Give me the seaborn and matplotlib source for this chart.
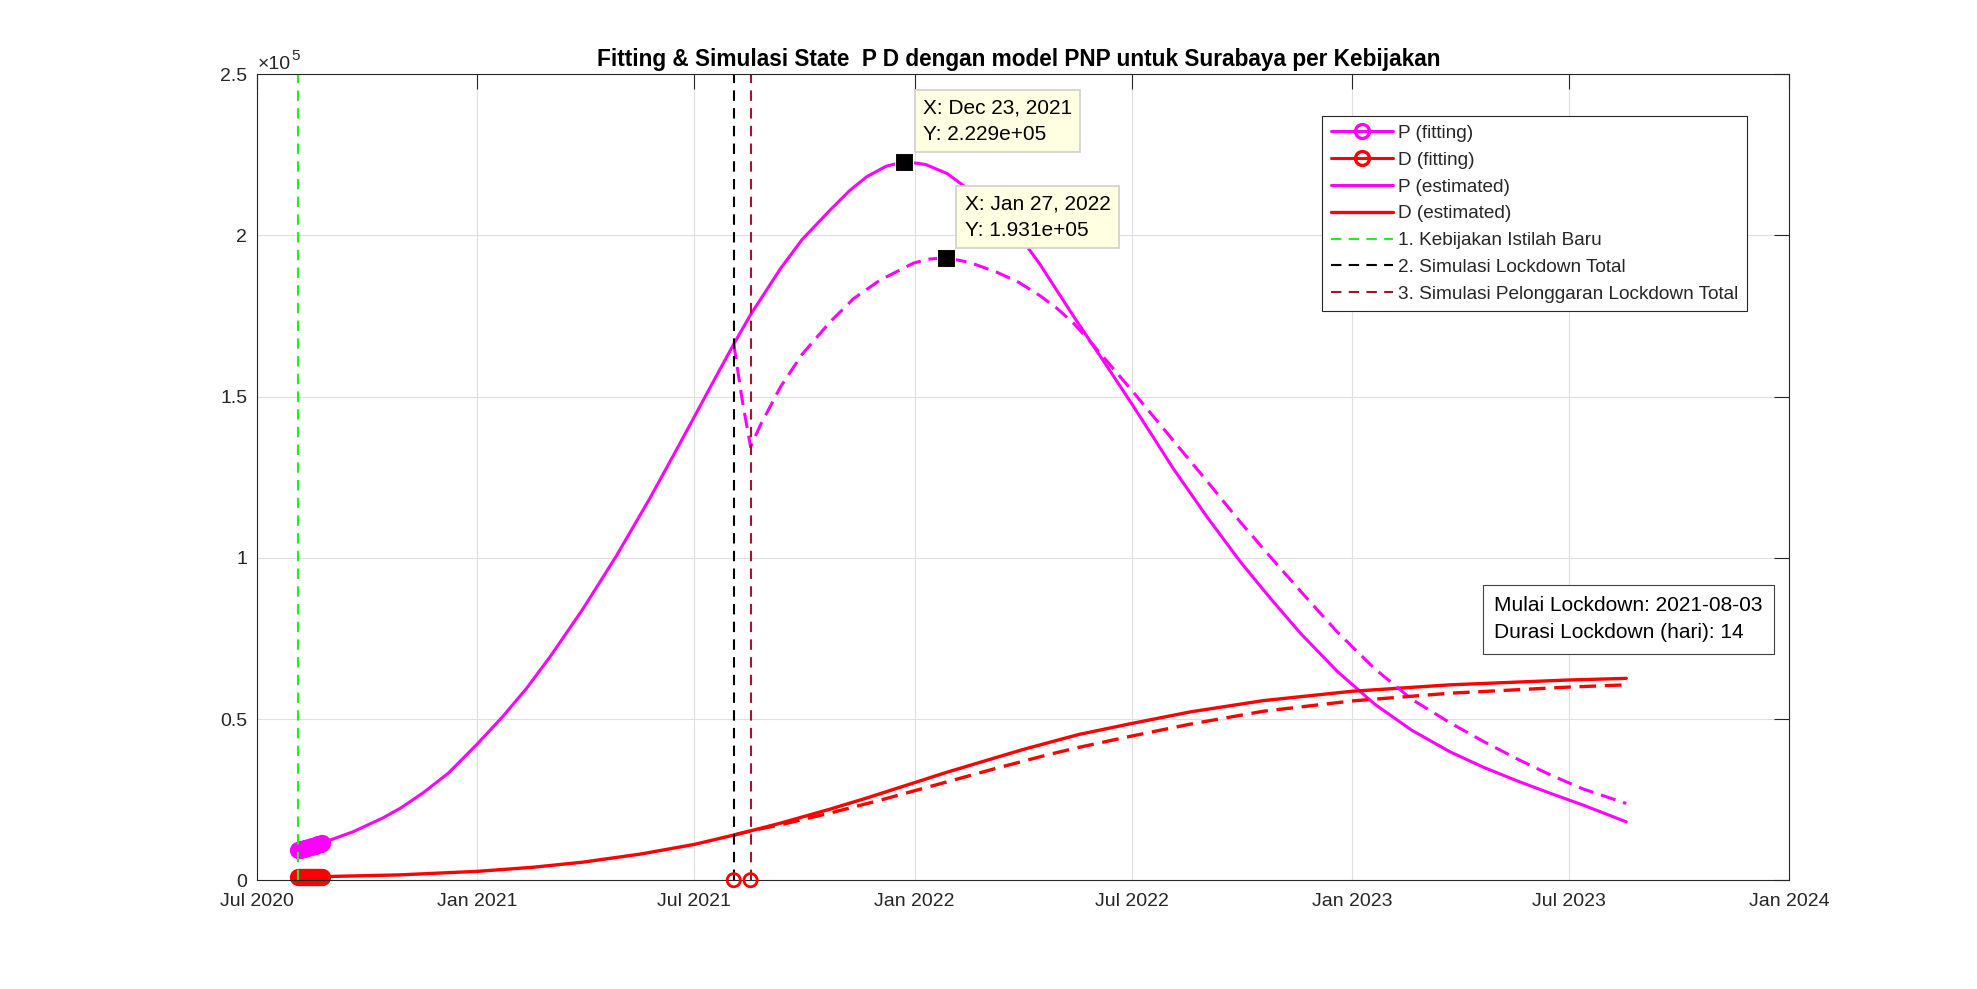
import matplotlib
matplotlib.use("Agg")

import pandas as pd
import matplotlib.pyplot as plt
import matplotlib.dates as mdates
from matplotlib.ticker import FuncFormatter
import seaborn as sns

# ---- data -------------------------------------------------------------------

# daily fitting data (P = positive, D = deaths), Surabaya
fit_dates = pd.date_range("2020-08-04", "2020-08-24", freq="D")
p_fit = [9300, 9390, 9480, 9580, 9670, 9770, 9870, 9980, 10080, 10190, 10290,
         10400, 10510, 10620, 10740, 10850, 10970, 11090, 11210, 11340, 11460]
d_fit = [870, 880, 895, 905, 920, 930, 945, 960, 970, 985, 1000,
         1010, 1025, 1040, 1055, 1065, 1080, 1095, 1110, 1125, 1140]

# P estimated (no lockdown)
p_est_dates = ["2020-08-04", "2020-08-24", "2020-09-19", "2020-10-14", "2020-10-29",
               "2020-11-17", "2020-12-08", "2021-01-01", "2021-01-22", "2021-02-11",
               "2021-03-03", "2021-03-30", "2021-04-27", "2021-05-25", "2021-06-16",
               "2021-07-01", "2021-07-18", "2021-08-03", "2021-08-17", "2021-09-11",
               "2021-09-29", "2021-10-22", "2021-11-08", "2021-11-22", "2021-12-08",
               "2021-12-23", "2022-01-10", "2022-01-28", "2022-02-21", "2022-03-13",
               "2022-04-02", "2022-04-16", "2022-04-25", "2022-05-14", "2022-06-10",
               "2022-07-02", "2022-07-19", "2022-08-05", "2022-09-02", "2022-09-30",
               "2022-10-25", "2022-11-19", "2022-12-20", "2023-01-20", "2023-02-20",
               "2023-03-24", "2023-04-21", "2023-05-19", "2023-06-16", "2023-07-13",
               "2023-08-18"]
p_est = [9300, 11500, 15000, 19300, 22400,
         27200, 33300, 42300, 50700, 59500,
         69500, 84100, 100600, 118500, 133400,
         143700, 155400, 166300, 175400, 189700,
         198700, 207700, 214000, 218200, 221400,
         222900, 222000, 219200, 212600, 206000,
         198000, 190800, 185600, 174700, 159700,
         147300, 137500, 127600, 112700, 98700,
         87400, 76600, 64700, 54600, 46500,
         39800, 35000, 30800, 26900, 23300,
         18100]

# D estimated (no lockdown)
d_est_dates = ["2020-08-04", "2020-08-24", "2020-10-28", "2021-01-01", "2021-02-16",
               "2021-03-30", "2021-05-17", "2021-07-01", "2021-08-03", "2021-08-17",
               "2021-09-11", "2021-10-22", "2021-11-22", "2021-12-23", "2022-01-28",
               "2022-04-02", "2022-05-18", "2022-07-01", "2022-08-19", "2022-10-19",
               "2023-01-01", "2023-03-24", "2023-07-01", "2023-08-18"]
d_est = [1000, 1100, 1650, 2750, 4000,
         5600, 8100, 11100, 14000, 15300,
         17700, 22000, 25500, 29200, 33500,
         40600, 45200, 48600, 52200, 55700,
         58600, 60600, 62100, 62600]

# lockdown simulation (dashed)
sim_dates = ["2021-08-03", "2021-08-10", "2021-08-17", "2021-08-25", "2021-09-11",
             "2021-09-29", "2021-10-22", "2021-11-11", "2021-12-03", "2021-12-31",
             "2022-01-12", "2022-01-27", "2022-02-16", "2022-03-11", "2022-03-29",
             "2022-04-16", "2022-04-30", "2022-05-14", "2022-05-30", "2022-07-02",
             "2022-08-05", "2022-09-02", "2022-09-30", "2022-10-27", "2022-11-24",
             "2022-12-20", "2023-01-20", "2023-02-20", "2023-03-24", "2023-04-21",
             "2023-05-19", "2023-06-16", "2023-07-13", "2023-08-10", "2023-08-18"]
p_sim = [166300, 149000, 134400, 141000, 153000,
         163100, 173000, 180400, 186100, 191400,
         192600, 193100, 191600, 188500, 185400,
         181200, 177300, 172600, 166000, 151600,
         136300, 123800, 111000, 99400, 87600,
         76900, 65600, 56100, 48800, 43000,
         37600, 32600, 28300, 24800, 23800]

d_sim_dates = ["2021-08-03", "2021-08-17", "2021-09-11", "2021-10-22", "2021-12-03",
               "2022-01-27", "2022-03-11", "2022-04-22", "2022-05-18", "2022-07-01",
               "2022-08-19", "2022-10-19", "2023-01-01", "2023-03-24", "2023-07-01",
               "2023-08-18"]
d_sim = [14000, 15300, 17200, 20800, 24800,
         30400, 34800, 38900, 41200, 44700,
         48400, 52400, 55600, 58000, 59900,
         60600]

policy_new = "2020-08-04"
lockdown_start = "2021-08-03"
lockdown_days = 14

# ---- style -------------------------------------------------------------------

MAGENTA = "#FF00FF"
RED = "#FF0000"
GREEN = "#1EF01E"
MAROON = "#A2142F"
AXCOL = "#262626"

sns.set_style("white")
plt.rcParams["font.family"] = ["Liberation Sans", "DejaVu Sans"]

fig = plt.figure(figsize=(19.77, 9.89), dpi=100)
ax = fig.add_axes([0.13, 0.11, 0.775, 0.815])

fit_x = pd.to_datetime(fit_dates)
lock_on = pd.Timestamp(lockdown_start)
lock_off = lock_on + pd.Timedelta(days=lockdown_days)

# fitting data (dense circles)
sns.lineplot(x=fit_x, y=p_fit, color=MAGENTA, lw=2.2, marker="o", ms=10,
             mfc="none", mec=MAGENTA, mew=2.4, label="P (fitting)",
             clip_on=False, ax=ax)
sns.lineplot(x=fit_x, y=d_fit, color=RED, lw=2.2, marker="o", ms=10,
             mfc="none", mec=RED, mew=2.4, label="D (fitting)",
             clip_on=False, ax=ax)

# estimated curves
sns.lineplot(x=pd.to_datetime(p_est_dates), y=p_est, color=MAGENTA, lw=2.2,
             label="P (estimated)", ax=ax)
sns.lineplot(x=pd.to_datetime(d_est_dates), y=d_est, color=RED, lw=2.4,
             label="D (estimated)", ax=ax)

# lockdown simulation
sns.lineplot(x=pd.to_datetime(sim_dates), y=p_sim, color=MAGENTA, lw=2.2,
             linestyle=(0, (5, 2.6)), ax=ax)
sns.lineplot(x=pd.to_datetime(d_sim_dates), y=d_sim, color=RED, lw=2.4,
             linestyle=(0, (5, 2.6)), ax=ax)

# policy markers on the time axis
ax.axvline(pd.Timestamp(policy_new), color=GREEN, lw=1.5, ls=(0, (5, 3.5)),
           label="1. Kebijakan Istilah Baru")
ax.axvline(lock_on, color="black", lw=1.5, ls=(0, (5, 3.5)),
           label="2. Simulasi Lockdown Total")
ax.axvline(lock_off, color=MAROON, lw=1.5, ls=(0, (5, 3.5)),
           label="3. Simulasi Pelonggaran Lockdown Total")
sns.scatterplot(x=[lock_on, lock_off], y=[0, 0], marker="o", s=90,
                facecolors="none", edgecolor=RED, linewidth=2,
                clip_on=False, zorder=5, legend=False, ax=ax)

# data tips at the two peaks
p_est_s = pd.Series(p_est, index=pd.to_datetime(p_est_dates))
p_sim_s = pd.Series(p_sim, index=pd.to_datetime(sim_dates))
for s in (p_est_s, p_sim_s):
    when, value = s.idxmax(), s.max()
    sns.scatterplot(x=[when], y=[value], marker="s", s=150, color="black",
                    edgecolor="#FFFFE0", linewidth=0.8, zorder=8,
                    legend=False, ax=ax)
    ax.annotate(f"X: {when:%b %d, %Y}\nY: {value:.3e}",
                xy=(when, value), xytext=(19, 18), textcoords="offset pixels",
                ha="left", va="bottom", fontsize=15, linespacing=1.5,
                color="black",
                bbox=dict(boxstyle="square,pad=0.4", fc="#FFFFE1",
                          ec="#CFCFCF", lw=1.2),
                zorder=9)

# ---- axes --------------------------------------------------------------------

ax.set_xlim(pd.Timestamp("2020-07-01"), pd.Timestamp("2024-01-01"))
ax.set_ylim(0, 250000)
ax.set_yticks([0, 50000, 100000, 150000, 200000, 250000])
ax.yaxis.set_major_formatter(FuncFormatter(lambda v, _: f"{v / 1e5:g}"))
ax.xaxis.set_major_locator(mdates.MonthLocator(bymonth=[1, 7]))
ax.xaxis.set_major_formatter(mdates.DateFormatter("%b %Y"))
ax.set_xlabel("")
ax.set_ylabel("")

ax.grid(True, color="#DFDFDF", lw=0.8)
ax.set_axisbelow(True)
for sp in ax.spines.values():
    sp.set_color(AXCOL)
    sp.set_linewidth(0.8)
ax.tick_params(direction="in", length=10.8, width=0.8, top=True, right=True,
               color=AXCOL, labelcolor=AXCOL, labelsize=14)
ax.tick_params(axis="x", pad=9)
ax.tick_params(axis="y", pad=7)

ax.annotate("\u00d710", xy=(0, 1), xycoords="axes fraction", xytext=(1, 5),
            textcoords="offset pixels", fontsize=14, color=AXCOL,
            ha="left", va="baseline")
ax.annotate("5", xy=(0, 1), xycoords="axes fraction", xytext=(34, 14),
            textcoords="offset pixels", fontsize=11, color=AXCOL,
            ha="left", va="baseline")

ax.set_title("Fitting & Simulasi State  P D dengan model PNP untuk Surabaya per Kebijakan",
             fontsize=16.3, fontweight="bold", color="black", pad=5.8, x=0.497)

leg = ax.legend(loc="upper left", bbox_to_anchor=(1322 / 1977, 1 - 116 / 989),
                bbox_transform=fig.transFigure, fontsize=13.7, frameon=True,
                fancybox=False, edgecolor=AXCOL, framealpha=1, borderpad=0.45,
                handlelength=3.3, handletextpad=0.25, labelspacing=0.5,
                borderaxespad=0)
leg.get_frame().set_linewidth(0.8)

fig.text(1494 / 1977, 1 - 596 / 989,
         f"Mulai Lockdown: {lockdown_start}\nDurasi Lockdown (hari): {lockdown_days}",
         fontsize=15, ha="left", va="top", linespacing=1.55, color="black",
         bbox=dict(boxstyle="square,pad=0.55", fc="white", ec="#404040", lw=0.8))

fig.savefig("out.png", dpi=100, facecolor="white")
